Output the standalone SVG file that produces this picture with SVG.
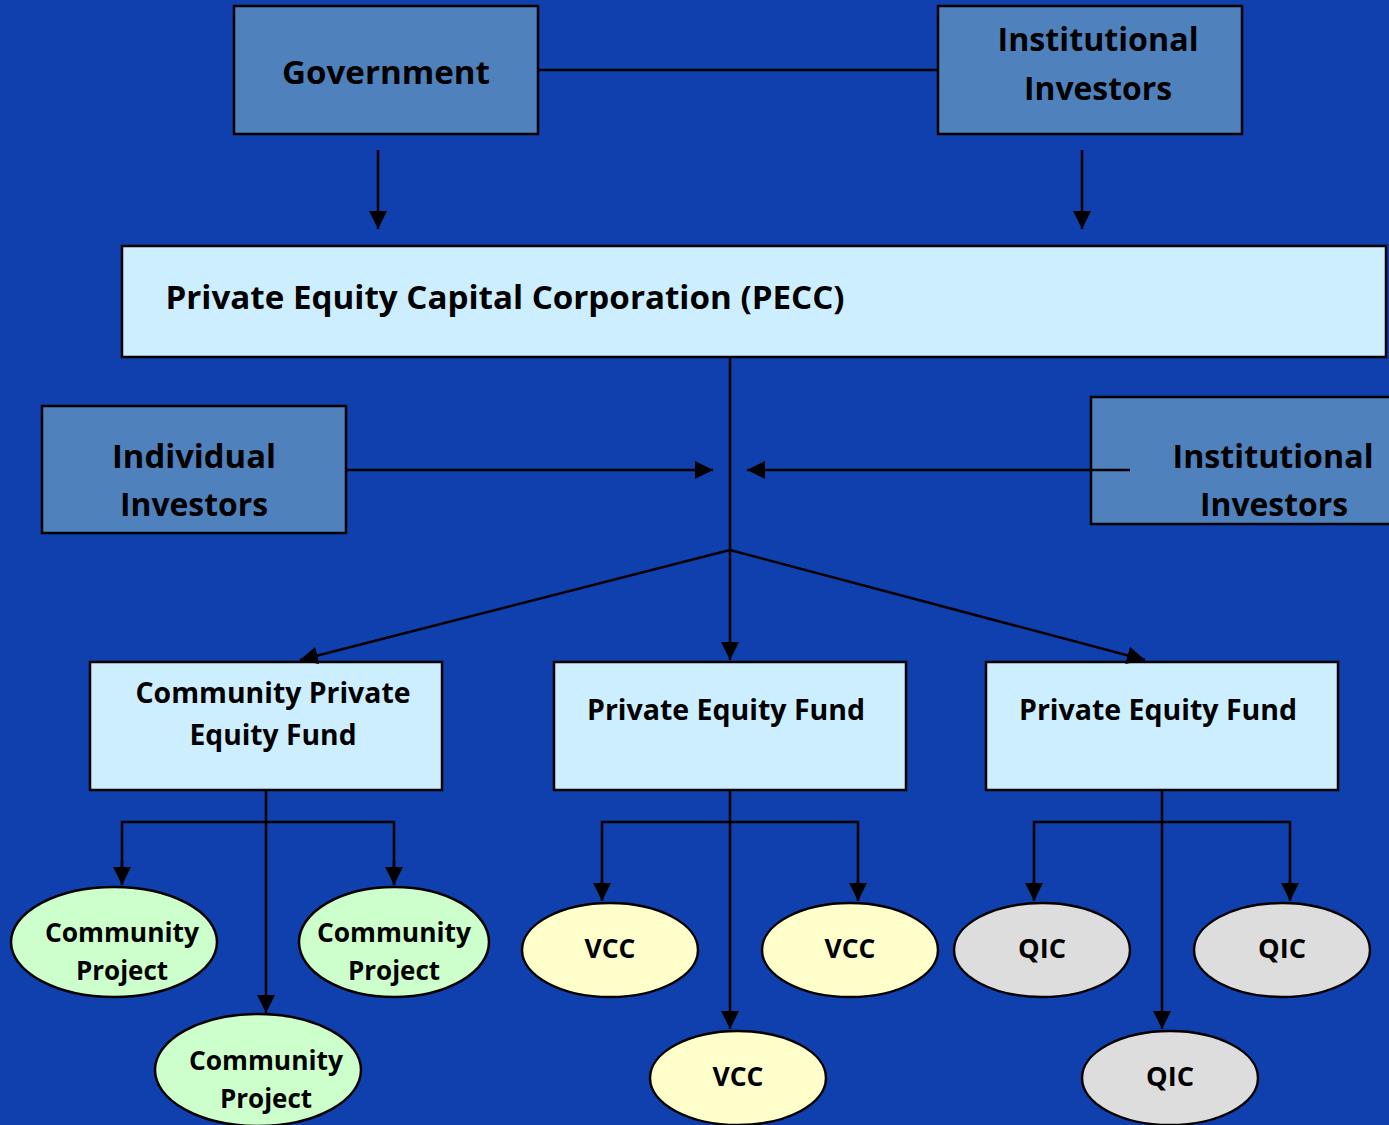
<svg xmlns="http://www.w3.org/2000/svg" width="1389" height="1125" viewBox="0 0 1389 1125">
<defs>
<marker id="ah" markerUnits="userSpaceOnUse" markerWidth="18" markerHeight="18" viewBox="0 0 16 16" refX="16" refY="8" orient="auto">
<path d="M0,0 L16,8 L0,16 Z" fill="#000"/>
</marker>
</defs>
<style>
.inv{fill:#4f81bd;stroke:#000;stroke-width:2.5}
.box{fill:#cdeeff;stroke:#000;stroke-width:2.5}
.cp{fill:#ccffcc;stroke:#000;stroke-width:2.5}
.vcc{fill:#ffffcc;stroke:#000;stroke-width:2.5}
.qic{fill:#dddddd;stroke:#000;stroke-width:2.5}
text{font-family:"Open Sans","Liberation Sans",sans-serif;font-weight:700;fill:#000;text-anchor:middle}
.l{font-size:33px}
.m{font-size:28px}
.s{font-size:26px}
.c line,.c polyline{stroke:#000;stroke-width:2.5;fill:none}
</style>
<rect width="1389" height="1125" fill="#0f40ae"/>
<g id="government"><rect class="inv" x="234" y="6" width="304" height="128"/><text class="l" x="386" y="84" textLength="208" lengthAdjust="spacingAndGlyphs">Government</text></g>
<g id="inst-top"><rect class="inv" x="938" y="6" width="304" height="128"/><text class="l" x="1098" y="51" textLength="201" lengthAdjust="spacingAndGlyphs">Institutional</text><text class="l" x="1098" y="100" textLength="148" lengthAdjust="spacingAndGlyphs">Investors</text></g>
<g id="pecc"><rect class="box" x="122" y="246" width="1264" height="111"/><text class="l" x="505" y="309" textLength="679" lengthAdjust="spacingAndGlyphs">Private Equity Capital Corporation (PECC)</text></g>
<g id="individual"><rect class="inv" x="42" y="406" width="304" height="127"/><text class="l" x="194" y="468" textLength="164" lengthAdjust="spacingAndGlyphs">Individual</text><text class="l" x="194" y="516" textLength="148" lengthAdjust="spacingAndGlyphs">Investors</text></g>
<g id="inst-right"><rect class="inv" x="1091" y="397" width="310" height="127"/><text class="l" x="1273" y="468" textLength="201" lengthAdjust="spacingAndGlyphs">Institutional</text><text class="l" x="1274" y="516" textLength="148" lengthAdjust="spacingAndGlyphs">Investors</text></g>
<g id="cpef"><rect class="box" x="90" y="662" width="352" height="128"/><text class="m" x="273" y="703" textLength="275" lengthAdjust="spacingAndGlyphs">Community Private</text><text class="m" x="273" y="745" textLength="167" lengthAdjust="spacingAndGlyphs">Equity Fund</text></g>
<g id="pef1"><rect class="box" x="554" y="662" width="352" height="128"/><text class="m" x="726" y="720" textLength="278" lengthAdjust="spacingAndGlyphs">Private Equity Fund</text></g>
<g id="pef2"><rect class="box" x="986" y="662" width="352" height="128"/><text class="m" x="1158" y="720" textLength="278" lengthAdjust="spacingAndGlyphs">Private Equity Fund</text></g>
<g id="cp1"><ellipse class="cp" cx="114" cy="942" rx="103" ry="55"/><text class="s" x="122" y="942" textLength="154" lengthAdjust="spacingAndGlyphs">Community</text><text class="s" x="122" y="980" textLength="92" lengthAdjust="spacingAndGlyphs">Project</text></g>
<g id="cp2"><ellipse class="cp" cx="394" cy="942" rx="95" ry="55"/><text class="s" x="394" y="942" textLength="154" lengthAdjust="spacingAndGlyphs">Community</text><text class="s" x="394" y="980" textLength="92" lengthAdjust="spacingAndGlyphs">Project</text></g>
<g id="cp3"><ellipse class="cp" cx="258" cy="1070" rx="103" ry="56"/><text class="s" x="266" y="1070" textLength="154" lengthAdjust="spacingAndGlyphs">Community</text><text class="s" x="266" y="1108" textLength="92" lengthAdjust="spacingAndGlyphs">Project</text></g>
<g id="vcc1"><ellipse class="vcc" cx="610" cy="950" rx="88" ry="47"/><text class="s" x="610" y="958" textLength="51" lengthAdjust="spacingAndGlyphs">VCC</text></g>
<g id="vcc2"><ellipse class="vcc" cx="850" cy="950" rx="88" ry="47"/><text class="s" x="850" y="958" textLength="51" lengthAdjust="spacingAndGlyphs">VCC</text></g>
<g id="vcc3"><ellipse class="vcc" cx="738" cy="1078" rx="88" ry="47"/><text class="s" x="738" y="1086" textLength="51" lengthAdjust="spacingAndGlyphs">VCC</text></g>
<g id="qic1"><ellipse class="qic" cx="1042" cy="950" rx="88" ry="47"/><text class="s" x="1042" y="958" textLength="48" lengthAdjust="spacingAndGlyphs">QIC</text></g>
<g id="qic2"><ellipse class="qic" cx="1282" cy="950" rx="88" ry="47"/><text class="s" x="1282" y="958" textLength="48" lengthAdjust="spacingAndGlyphs">QIC</text></g>
<g id="qic3"><ellipse class="qic" cx="1170" cy="1078" rx="88" ry="47"/><text class="s" x="1170" y="1086" textLength="48" lengthAdjust="spacingAndGlyphs">QIC</text></g>
<g class="c" id="connectors">
<line x1="538" y1="70" x2="938" y2="70"/>
<line x1="378" y1="150" x2="378" y2="229" marker-end="url(#ah)"/>
<line x1="1082" y1="150" x2="1082" y2="229" marker-end="url(#ah)"/>
<line x1="730" y1="358" x2="730" y2="550"/>
<line x1="346" y1="470" x2="713" y2="470" marker-end="url(#ah)"/>
<line x1="1130" y1="470" x2="747" y2="470" marker-end="url(#ah)"/>
<line x1="730" y1="550" x2="730" y2="660" marker-end="url(#ah)"/>
<line x1="730" y1="550" x2="300" y2="660" marker-end="url(#ah)"/>
<line x1="730" y1="550" x2="1145" y2="660" marker-end="url(#ah)"/>
<line x1="266" y1="791" x2="266" y2="1013" marker-end="url(#ah)"/>
<polyline points="122,885 122,822 394,822 394,885"/>
<line x1="122" y1="860" x2="122" y2="885" marker-end="url(#ah)"/>
<line x1="394" y1="860" x2="394" y2="885" marker-end="url(#ah)"/>
<line x1="730" y1="791" x2="730" y2="1029" marker-end="url(#ah)"/>
<polyline points="602,900 602,822 858,822 858,900"/>
<line x1="602" y1="880" x2="602" y2="901" marker-end="url(#ah)"/>
<line x1="858" y1="880" x2="858" y2="901" marker-end="url(#ah)"/>
<line x1="1162" y1="791" x2="1162" y2="1029" marker-end="url(#ah)"/>
<polyline points="1034,900 1034,822 1290,822 1290,900"/>
<line x1="1034" y1="880" x2="1034" y2="901" marker-end="url(#ah)"/>
<line x1="1290" y1="880" x2="1290" y2="901" marker-end="url(#ah)"/>
</g>
</svg>
